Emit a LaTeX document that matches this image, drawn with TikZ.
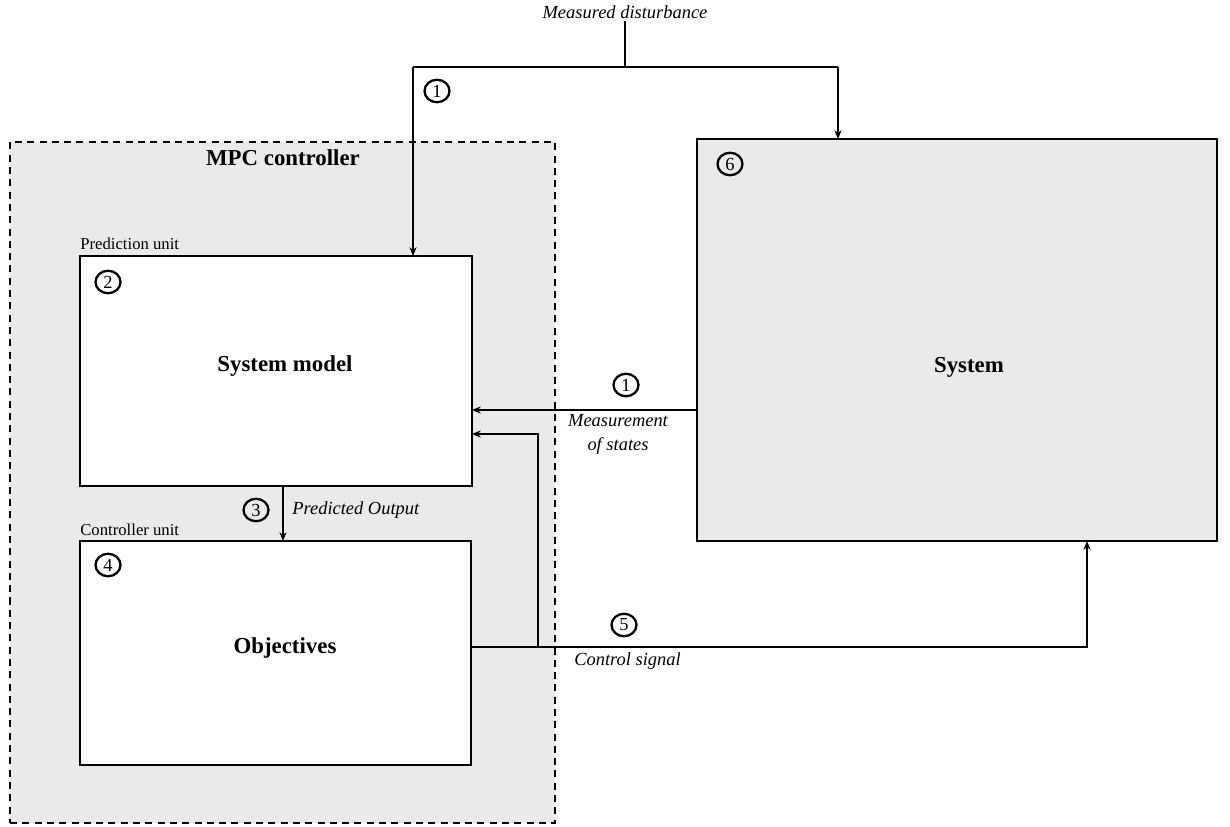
\documentclass[tikz,border=0pt]{standalone}
\usepackage{fontspec}
\setmainfont{Liberation Serif}
\usetikzlibrary{arrows.meta,shapes.geometric}
\definecolor{boxgray}{HTML}{EAEAEA}
\tikzset{
  conn/.style={line width=0.6pt, draw=black},
  arr/.style={conn, -{Stealth[length=5pt,width=4pt]}},
  blk/.style={draw, line width=0.8pt, outer sep=0pt, inner sep=0pt},
  num/.style={draw, ellipse, line width=1.3pt, inner sep=0pt, minimum width=0.5cm, minimum height=0.45cm, font=\fontsize{10.5}{10.5}\selectfont},
  title/.style={font=\fontsize{13}{15}\selectfont\bfseries},
  lbl/.style={font=\fontsize{9.5}{11}\selectfont, inner sep=0pt},
  ilbl/.style={font=\fontsize{10.5}{13.6}\selectfont\itshape, inner sep=0pt, align=center}
}
\begin{document}
\begin{tikzpicture}[x=0.02cm, y=-0.02cm]
\useasboundingbox (0,0) rectangle (1230,827);
% MPC controller container
\node[blk, dashed, line width=1pt, dash pattern=on 4pt off 3pt, fill=boxgray, minimum width=10.9cm, minimum height=13.62cm] (mpc) at (282.5,482.5) {};
\node[title] (mpct) at (283,158) {MPC controller};
% System model
\node[blk, fill=white, minimum width=7.84cm, minimum height=4.6cm] (sysmodel) at (276,371) {};
\node[lbl, anchor=base west] (predu) at (80,250) {Prediction unit};
\node[title] (smt) at (285,366) {System model};
\node[num] (n2) at (108,282) {2};
% Objectives
\node[blk, fill=white, minimum width=7.82cm, minimum height=4.48cm] (obj) at (275.5,653) {};
\node[lbl, anchor=base west] (ctrlu) at (80,535) {Controller unit};
\node[title] (objt) at (285,648) {Objectives};
\node[num] (n4) at (108,565) {4};
% System
\node[blk, fill=boxgray, minimum width=10.4cm, minimum height=8.04cm] (system) at (957,340) {};
\node[title] (syst) at (969,367) {System};
\node[num] (n6) at (730,164) {6};
% Measured disturbance
\node[ilbl, anchor=base] (md) at (625,19) {Measured disturbance};
\coordinate (mt) at (625,21);
\coordinate (jm) at (625,67);
\coordinate (jl) at (413,67);
\coordinate (jr) at (838,67);
\draw[conn] (mt) -- (jm);
\draw[conn] (jl) -- (jr);
\draw[arr] (jr) -- (jr |- system.north);
\draw[arr] (jl) -- (jl |- sysmodel.north);
\node[num] (n1a) at (437,91) {1};
% Measurement of states
\coordinate (ms) at (0,410);
\draw[arr] (system.west |- ms) -- (sysmodel.east |- ms);
\node[num] (n1b) at (626,385) {1};
\node[ilbl] (mst) at (618,434) {Measurement\\of states};
% Predicted output
\coordinate (po) at (283,0);
\draw[arr] (sysmodel.south -| po) -- (obj.north -| po);
\node[num] (n3) at (256,510) {3};
\node[ilbl, anchor=west] (pot) at (292,510) {Predicted Output};
% Control signal
\coordinate (cs) at (0,647);
\coordinate (cx) at (1087,0);
\coordinate (fb) at (538,434);
\draw[arr] (obj.east |- cs) -- (cx |- cs) -- (cx |- system.south);
\draw[arr] (fb |- cs) -- (fb) -- (sysmodel.east |- fb);
\node[num] (n5) at (624,625) {5};
\node[ilbl, anchor=west] (cst) at (574,661) {Control signal};
\end{tikzpicture}
\end{document}
